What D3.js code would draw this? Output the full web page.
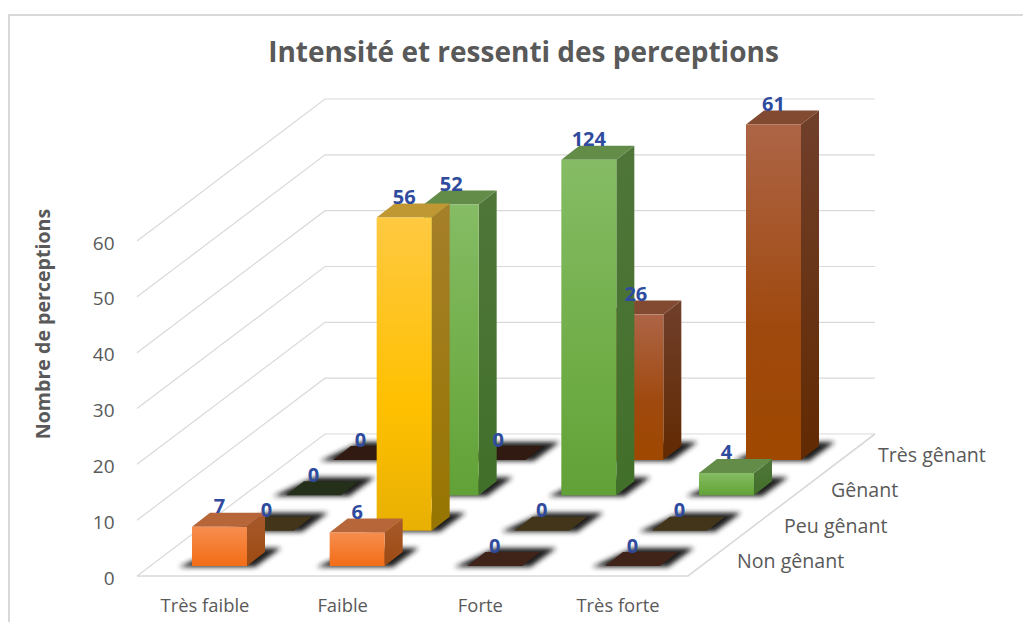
<!DOCTYPE html>
<html><head><meta charset="utf-8">
<script src="https://cdn.jsdelivr.net/npm/d3@7/dist/d3.min.js"></script>
<style>html,body{margin:0;padding:0;background:#fff;overflow:hidden}svg{display:block}text{font-family:"Open Sans","Noto Sans",sans-serif}</style>
</head><body><svg id="c" width="1023" height="622"></svg>
<script>
const title = "Intensité et ressenti des perceptions";
const yAxisTitle = "Nombre de perceptions";
const categories = ["Très faible", "Faible", "Forte", "Très forte"];
const seriesNames = ["Non gênant", "Peu gênant", "Gênant", "Très gênant"];
const nonGenant = [7, 6, 0, 0];
const peuGenant = [0, 56, 0, 0];
const genant = [0, 52, 124, 4];
const tresGenant = [0, 0, 26, 61];
const yTicks = [0, 10, 20, 30, 40, 50, 60];
const seriesValues = [nonGenant, peuGenant, genant, tresGenant];
const palettes = [
  {stops:["#f68d50","#f47a2c","#f26d18"], side:["#a85a2c","#9c4a12"], top:"#b66639", flat:"#40241a"},
  {stops:["#ffc941","#ffc000","#e8b004"], side:["#a67f2a","#977500"], top:"#bf9733", flat:"#43351a"},
  {stops:["#85bc65","#70ad47","#61a137"], side:["#50763a","#41702a"], top:"#638c49", flat:"#243019"},
  {stops:["#ad6546","#a0490f","#9e4800"], side:["#703f2b","#622a02"], top:"#824a30", flat:"#301a12"}
];

const svg = d3.select("#c");
const defs = svg.append("defs");
const blur = defs.append("filter").attr("id","sh").attr("x","-30%").attr("y","-80%").attr("width","160%").attr("height","260%");
blur.append("feGaussianBlur").attr("stdDeviation",2.8);
palettes.forEach((p,i)=>{
  const g = defs.append("linearGradient").attr("id","f"+i).attr("x1",0).attr("x2",0).attr("y1",0).attr("y2",1);
  p.stops.forEach((c,j)=>g.append("stop").attr("offset",[0,.6,1][j]).attr("stop-color",c));
  const s = defs.append("linearGradient").attr("id","s"+i).attr("x1",0).attr("x2",0).attr("y1",0).attr("y2",1);
  p.side.forEach((c,j)=>s.append("stop").attr("offset",j).attr("stop-color",c));
});

// pseudo-3D projection, all through scales
const xCol = d3.scalePoint().domain(categories).range([192,605]);
const xDepth = d3.scalePoint().domain(seriesNames).range([0,141]);
const yDepth = d3.scalePoint().domain(seriesNames).range([566,460]);
const yVal = d3.scaleLinear().domain([0,60]).range([0,335.5]).clamp(true);
const barW = 55, dx = 18, dy = 14;
const wallY = d3.scaleLinear().domain([0,60]).range([434,99]);
const wallRun = {x:188, y:142}, wallL = 325, wallR = 875;

const grid = "#d9d9d9";
// frame
svg.append("path").attr("d","M9,622V15H1023").attr("fill","none").attr("stroke",grid).attr("stroke-width",2);

svg.append("text").attr("x",523.5).attr("y",61.5).attr("text-anchor","middle").attr("font-size",28).attr("font-weight",700).attr("fill","#595959").text(title);

// walls
const gl = svg.append("g").attr("fill","none").attr("stroke",grid).attr("stroke-width",1.2);
yTicks.forEach(t=>{
  const y = wallY(t);
  gl.append("path").attr("d",d3.line()([[wallL-wallRun.x,y+wallRun.y],[wallL,y],[wallR,y]]));
});
gl.append("path").attr("stroke-width",1.6).attr("d",d3.line()([[137,576],[688,576],[875,434]]));

// y ticks
svg.append("g").selectAll("text").data(yTicks).join("text")
  .attr("x",114.5).attr("y",t=>wallY(t)+wallRun.y+2).attr("dy","0.35em").attr("text-anchor","end")
  .attr("font-size",19).attr("fill","#595959").text(d=>d);
svg.append("text").attr("transform","translate(50,324) rotate(-90)").attr("text-anchor","middle")
  .attr("font-size",19.6).attr("font-weight",700).attr("fill","#595959").text(yAxisTitle);

// category labels
svg.append("g").selectAll("text").data(categories).join("text")
  .attr("x",c=>xCol(c)+13).attr("y",611.5).attr("text-anchor","middle").attr("font-size",18.4).attr("fill","#595959").text(d=>d);
// depth labels
svg.append("g").selectAll("text").data(seriesNames).join("text")
  .attr("x",s=>737+xDepth(s)).attr("y",s=>yDepth(s)+2).attr("font-size",19.6).attr("fill","#595959").text(d=>d);

// records
const recs = [];
seriesNames.forEach((s,si)=>categories.forEach((c,ci)=>{
  const v = seriesValues[si][ci];
  const x = xCol(c)+xDepth(s), base = yDepth(s), h = yVal(v);
  recs.push({s,si,c,ci,v,x,base,h,top:base-h});
}));

const poly = pts => "M"+pts.map(p=>p.join(",")).join("L")+"Z";
const drawOrder = d3.range(3,-1,-1).flatMap(si=>recs.filter(r=>r.si===si));

// shadows + bars back to front
const bars = svg.append("g");
drawOrder.forEach(r=>{
  const g = bars.append("g");
  const pad = 13;
  g.append("path").attr("filter","url(#sh)").attr("fill","#1a1a1a")
    .attr("d",poly([[r.x-pad,r.base+1],[r.x+barW+pad-5,r.base+1],[r.x+barW+dx+pad+3,r.base-dy-4],[r.x+dx+pad-3,r.base-dy-4]]));
  const p = palettes[r.si];
  if(r.v===0){
    g.append("path").attr("fill",p.flat).attr("d",poly([[r.x,r.base],[r.x+barW,r.base],[r.x+barW+dx,r.base-dy],[r.x+dx,r.base-dy]]));
  } else {
    g.append("path").attr("fill",`url(#s${r.si})`).attr("d",poly([[r.x+barW,r.base],[r.x+barW+dx,r.base-dy],[r.x+barW+dx,r.top-dy],[r.x+barW,r.top]]));
    g.append("path").attr("fill",p.top).attr("d",poly([[r.x,r.top],[r.x+barW,r.top],[r.x+barW+dx,r.top-dy],[r.x+dx,r.top-dy]]));
    g.append("rect").attr("x",r.x).attr("y",r.top).attr("width",barW).attr("height",r.h).attr("fill",`url(#f${r.si})`);
  }
});

// data labels
svg.append("g").selectAll("text").data(recs).join("text")
  .attr("x",r=>r.x+barW/2).attr("y",r=>r.top-20.5).attr("dy","0.35em").attr("text-anchor","middle")
  .attr("font-size",20).attr("font-weight",700).attr("fill","#2f4b9e").text(r=>r.v);
</script></body></html>
